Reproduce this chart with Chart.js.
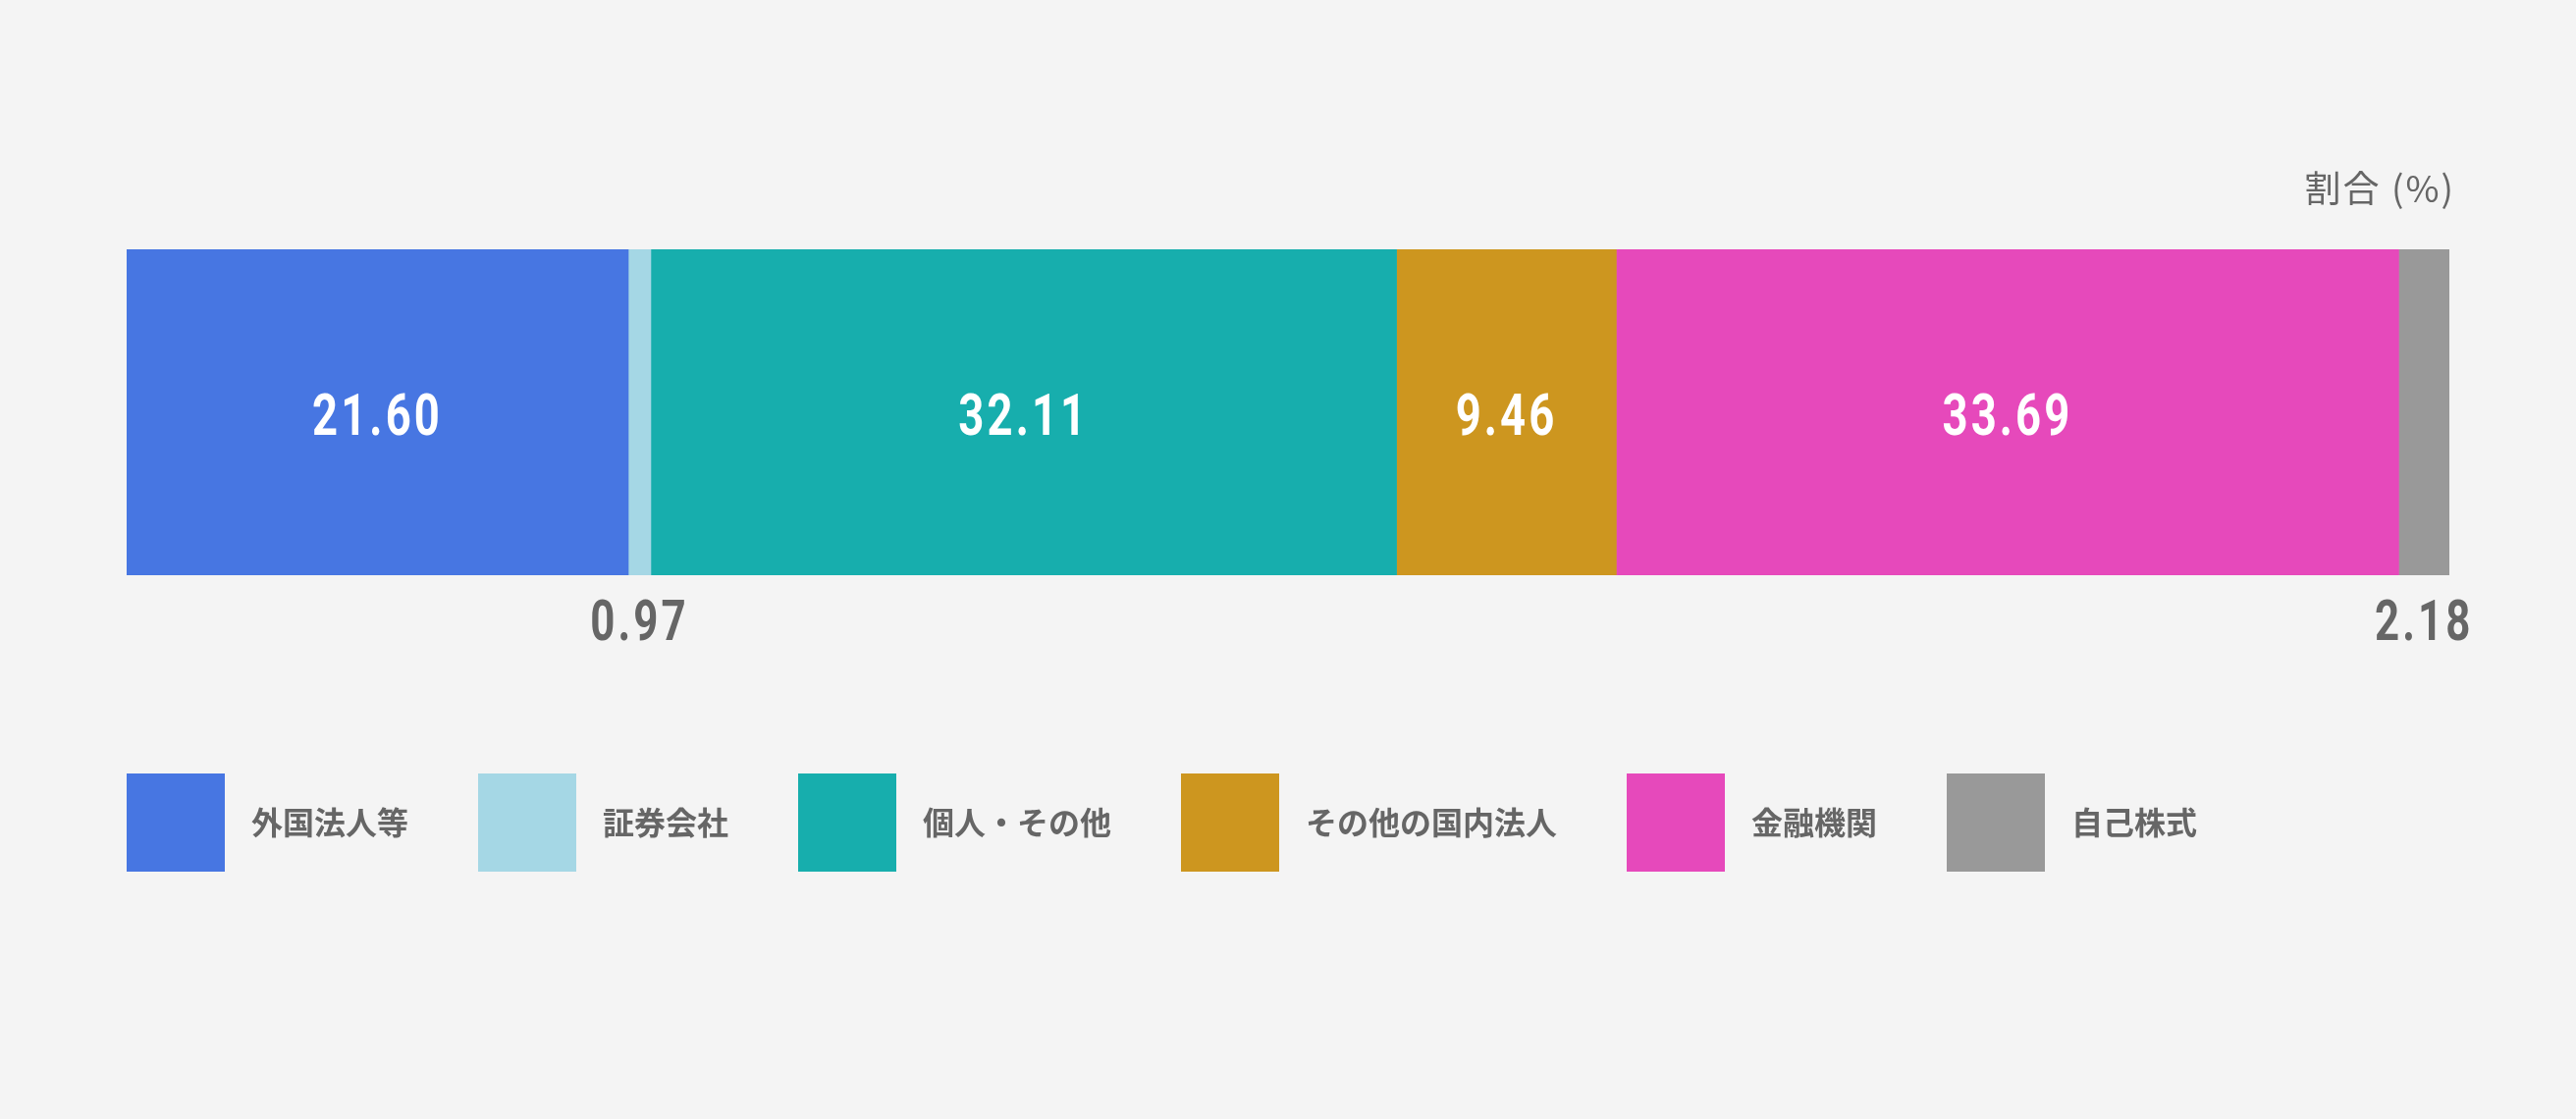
<!DOCTYPE html>
<html lang="ja">
<head>
<meta charset="utf-8">
<script src="https://cdn.jsdelivr.net/npm/chart.js@4/dist/chart.umd.min.js"></script>
<style>
html, body { margin: 0; padding: 0; background: #f4f4f4; }
#wrap { width: 2624px; height: 1140px; position: relative; }
</style>
</head>
<body>
<div id="wrap"><canvas id="myChart"></canvas></div>
<script>
const categories = ['外国法人等', '証券会社', '個人・その他', 'その他の国内法人', '金融機関', '自己株式'];
const shares = [21.60, 0.97, 32.11, 9.46, 33.69, 2.18];
const colors = ['#4776e2', '#a5d7e5', '#17aead', '#cd961f', '#e649bb', '#999999'];
const unitLabel = '割合 (%)';

const total = shares.reduce((a, b) => a + b, 0);

// value labels: inside wide segments, below narrow ones
const valueLabels = {
  id: 'valueLabels',
  afterDatasetsDraw(chart) {
    const ctx = chart.ctx;
    const area = chart.chartArea;
    chart.data.datasets.forEach(function(ds, i) {
      const bar = chart.getDatasetMeta(i).data[0];
      const cx = (bar.x + bar.base) / 2;
      const w = Math.abs(bar.x - bar.base);
      const inside = w > 150;
      ctx.save();
      ctx.font = 'bold ' + (inside ? 59 : 57) + 'px Roboto';
      ctx.letterSpacing = '4px';
      ctx.fillStyle = inside ? '#ffffff' : '#666666';
      ctx.textAlign = 'center';
      ctx.textBaseline = 'middle';
      ctx.translate(cx, inside ? bar.y + 8 : area.bottom + 52);
      ctx.scale(0.77, 1);
      ctx.fillText(ds.data[0].toFixed(2), 0, 0);
      ctx.restore();
    });
  }
};

// unit title and legend row
const extras = {
  id: 'extras',
  afterDraw(chart) {
    const ctx = chart.ctx;
    const area = chart.chartArea;
    ctx.save();
    ctx.fillStyle = '#666666';
    ctx.font = '37px "Noto Sans CJK JP"';
    ctx.letterSpacing = '2px';
    ctx.textAlign = 'right';
    ctx.textBaseline = 'middle';
    ctx.fillText(unitLabel, area.right + 6, 192);
    ctx.letterSpacing = '0px';

    ctx.font = 'bold 32px "Noto Sans CJK JP"';
    ctx.textAlign = 'left';
    var x = area.left;
    const top = 788, size = 100;
    chart.data.datasets.forEach(function(ds) {
      ctx.fillStyle = ds.backgroundColor;
      ctx.fillRect(x, top, size, size);
      ctx.fillStyle = '#666666';
      ctx.fillText(ds.label, x + size + 27, top + size / 2);
      x += size + 27 + ctx.measureText(ds.label).width + 71;
    });
    ctx.restore();
  }
};

var ctx = document.getElementById('myChart').getContext('2d');
var myChart = new Chart(ctx, {
  type: 'bar',
  data: {
    labels: [''],
    datasets: categories.map(function(name, i) {
      return {
        label: name,
        data: [shares[i]],
        backgroundColor: colors[i],
        borderWidth: 0,
        barPercentage: 1,
        categoryPercentage: 1
      };
    })
  },
  options: {
    indexAxis: 'y',
    responsive: true,
    maintainAspectRatio: false,
    devicePixelRatio: 1,
    animation: false,
    layout: { padding: { left: 129, right: 129, top: 254, bottom: 554 } },
    scales: {
      x: { stacked: true, display: false, min: 0, max: total },
      y: { stacked: true, display: false }
    },
    plugins: {
      legend: { display: false },
      tooltip: { enabled: false }
    }
  },
  plugins: [valueLabels, extras]
});
</script>
</body>
</html>
